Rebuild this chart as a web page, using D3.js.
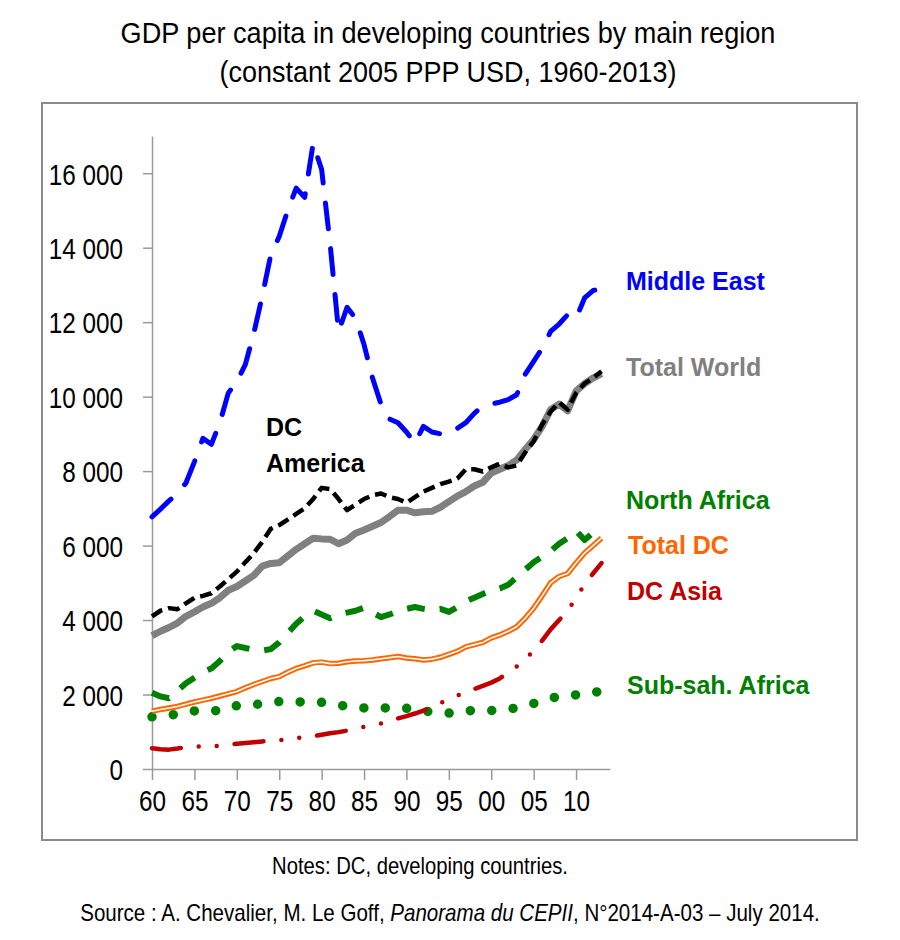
<!DOCTYPE html>
<html><head><meta charset="utf-8">
<script src="https://cdn.jsdelivr.net/npm/d3@7"></script>
<style>body{margin:0;background:#fff} svg{display:block}</style>
</head><body>
<svg id="c" width="900" height="940"></svg>
<script>
// ---------------- DATA ----------------
const years = d3.range(1960, 2014);
const middleEast = [6770, 6980, 7200, 7400, 7680, 8250, 8880, 8720, 9300, 10100,
  10400, 10860, 11700, 12700, 13800, 14300, 15000, 15600, 15350, 16800,
  16100, 14100, 11750, 12400, 12100, 11400, 10500, 9800, 9400, 9300,
  9050, 8750, 9200, 9050, 9000, 9000, 9150, 9300, 9550, 9750,
  9800, 9850, 9920, 10050, 10600, 10950, 11300, 11750, 11950, 12200,
  12100, 12650, 12850, 12900];
const totalWorld = [3580, 3700, 3800, 3920, 4100, 4220, 4350, 4450, 4600, 4800,
  4900, 5050, 5200, 5450, 5520, 5540, 5720, 5900, 6050, 6200,
  6180, 6170, 6050, 6150, 6330, 6420, 6520, 6620, 6780, 6950,
  6950, 6880, 6910, 6920, 7030, 7180, 7330, 7450, 7600, 7700,
  7950, 8050, 8150, 8300, 8580, 8850, 9200, 9650, 9800, 9620,
  10150, 10350, 10500, 10620];
const dcAmerica = [4100, 4250, 4320, 4290, 4450, 4600, 4650, 4720, 4900, 5100,
  5300, 5550, 5800, 6100, 6450, 6550, 6700, 6850, 7000, 7250,
  7550, 7520, 7250, 6950, 7100, 7250, 7350, 7400, 7300, 7250,
  7150, 7300, 7450, 7550, 7650, 7720, 7800, 8050, 8050, 7990,
  8100, 8200, 8100, 8150, 8500, 8800, 9250, 9600, 9850, 9650,
  10100, 10350, 10500, 10680];
const northAfrica = [2050, 1950, 1900, 2100, 2300, 2450, 2600, 2700, 2900, 3150,
  3300, 3250, 3200, 3180, 3220, 3400, 3650, 3900, 4100, 4250,
  4150, 4050, 4150, 4200, 4250, 4330, 4200, 4080, 4150, 4230,
  4300, 4350, 4300, 4270, 4300, 4220, 4350, 4500, 4600, 4700,
  4800, 4850, 4950, 5150, 5350, 5550, 5700, 5850, 6050, 6200,
  6400, 6150, 6350, 6380];
const totalDC = [1550, 1600, 1640, 1680, 1740, 1800, 1850, 1900, 1960, 2020,
  2080, 2180, 2270, 2350, 2430, 2480, 2600, 2700, 2770, 2850,
  2870, 2830, 2840, 2880, 2900, 2910, 2930, 2960, 2990, 3020,
  2980, 2960, 2930, 2950, 3000, 3080, 3160, 3280, 3340, 3400,
  3520, 3600, 3700, 3820, 4050, 4320, 4650, 5000, 5170, 5250,
  5530, 5800, 6000, 6200];
const dcAsia = [560, 530, 520, 550, 590, 600, 610, 610, 620, 650,
  680, 700, 720, 740, 760, 770, 800, 830, 860, 880,
  920, 960, 990, 1030, 1080, 1130, 1180, 1220, 1290, 1360,
  1420, 1490, 1570, 1670, 1770, 1870, 1970, 2070, 2150, 2230,
  2320, 2430, 2600, 2750, 2950, 3180, 3450, 3750, 4000, 4250,
  4600, 4950, 5250, 5530];
const subSahAfrica = [1400, 1420, 1450, 1470, 1520, 1560, 1580, 1570, 1560, 1640,
  1700, 1720, 1730, 1750, 1800, 1810, 1790, 1800, 1800, 1800,
  1790, 1760, 1720, 1680, 1640, 1640, 1630, 1640, 1640, 1640,
  1630, 1600, 1560, 1530, 1500, 1500, 1530, 1560, 1570, 1570,
  1570, 1590, 1610, 1640, 1700, 1760, 1840, 1900, 1950, 1960,
  1990, 2030, 2060, 2080];
const xTickYears = [1960, 1965, 1970, 1975, 1980, 1985, 1990, 1995, 2000, 2005, 2010];
const xTickLabels = ["60", "65", "70", "75", "80", "85", "90", "95", "00", "05", "10"];
const yTickValues = [0, 2000, 4000, 6000, 8000, 10000, 12000, 14000, 16000];
const seriesNames = ["Middle East", "Total World", "North Africa", "Total DC", "DC Asia", "Sub-sah. Africa"];
const titleLines = ["GDP per capita in developing countries by main region", "(constant 2005 PPP USD, 1960-2013)"];

// ---------------- CHART ----------------
const svg = d3.select("#c");
const FONT = "'Liberation Sans', Arial, Helvetica, sans-serif";

svg.append("rect").attr("x", 0).attr("y", 0).attr("width", 900).attr("height", 940).attr("fill", "#fff");
svg.append("rect").attr("x", 42).attr("y", 103).attr("width", 815).attr("height", 737)
  .attr("fill", "#fff").attr("stroke", "#8a8a8a").attr("stroke-width", 2);

const x = d3.scaleLinear().domain([1960, 2014]).range([152, 610]);
const y = d3.scaleLinear().domain([0, 17000]).range([769, 136]);

const fmt = d3.formatLocale({thousands: " ", grouping: [3], decimal: ".", currency: ["", ""]}).format(",");

const yAxis = svg.append("g").attr("transform", `translate(${x(1960)},0)`)
  .call(d3.axisLeft(y).tickValues(yTickValues).tickSize(9).tickSizeOuter(0).tickFormat(fmt));
const xAxis = svg.append("g").attr("transform", `translate(0,${y(0)})`)
  .call(d3.axisBottom(x).tickValues(xTickYears).tickSize(11).tickSizeOuter(0)
    .tickFormat((d, i) => xTickLabels[i]));

[yAxis, xAxis].forEach(a => {
  a.selectAll("path.domain").attr("stroke", "#9a9a9a").attr("stroke-width", 1.5);
  a.selectAll(".tick line").attr("stroke", "#9a9a9a").attr("stroke-width", 1.5);
  a.selectAll("text").attr("font-family", FONT).attr("font-size", 30).attr("fill", "#000");
});
yAxis.selectAll("text").attr("x", 0).attr("dy", "0.36em").attr("text-anchor", "end")
  .attr("transform", "translate(-29,0) scale(0.81,1)");
xAxis.selectAll("text").attr("y", 21).attr("dy", "0.71em")
  .attr("transform", "scale(0.81,1)");

const line = d3.line().x((d, i) => x(years[i])).y(d => y(d));

function draw(data, color, width, dash, cap) {
  return svg.append("path").datum(data).attr("d", line)
    .attr("fill", "none").attr("stroke", color).attr("stroke-width", width)
    .attr("stroke-dasharray", dash).attr("stroke-linecap", cap || "butt")
    .attr("stroke-linejoin", "round");
}

draw(subSahAfrica, "#008000", 9.5, "0 21.4", "round");
draw(dcAsia, "#c00000", 4.5, "29 18 0 18 0 18", "round");
draw(totalDC, "#ff6600", 5.5, null);
draw(totalDC, "#ffffff", 1.6, null);
draw(northAfrica, "#008000", 6, "18 15", "butt");
draw(totalWorld, "#808080", 7, null);
draw(dcAmerica, "#000000", 4.5, "12 6", "butt");
draw(middleEast, "#0000ff", 5, "26 20", "round");

// series labels
const labels = [
  {t: seriesNames[0], x: 626, y: 290, c: "#0000ff"},
  {t: seriesNames[1], x: 626, y: 376, c: "#808080"},
  {t: seriesNames[2], x: 626, y: 509, c: "#008000"},
  {t: seriesNames[3], x: 628, y: 554, c: "#ff6600"},
  {t: seriesNames[4], x: 627, y: 600, c: "#c00000"},
  {t: seriesNames[5], x: 627, y: 694, c: "#008000"},
  {t: "DC", x: 266, y: 436, c: "#000"},
  {t: "America", x: 266, y: 472, c: "#000"}
];
svg.selectAll("text.lab").data(labels).enter().append("text").attr("class", "lab")
  .attr("x", d => d.x).attr("y", d => d.y).attr("fill", d => d.c)
  .attr("font-family", FONT).attr("font-size", 25).attr("font-weight", "bold")
  .text(d => d.t);

// compressed (narrow-looking) centred texts
function fitText(cx, baseline, width, size, build) {
  const g = svg.append("g");
  const t = g.append("text").attr("text-anchor", "middle").attr("font-family", FONT)
    .attr("font-size", size).attr("fill", "#000");
  build(t);
  const w = t.node().getBBox().width;
  g.attr("transform", `translate(${cx},${baseline}) scale(${width / w},1)`);
}
fitText(448, 43, 655, 29, t => t.text(titleLines[0]));
fitText(448, 82, 457, 29, t => t.text(titleLines[1]));
fitText(420, 874, 296, 23, t => t.text("Notes: DC, developing countries."));
fitText(450, 921, 740, 23, t => {
  t.append("tspan").text("Source : A. Chevalier, M. Le Goff, ");
  t.append("tspan").attr("font-style", "italic").text("Panorama du CEPII");
  t.append("tspan").text(", N°2014-A-03 – July 2014.");
});
</script>
</body></html>
